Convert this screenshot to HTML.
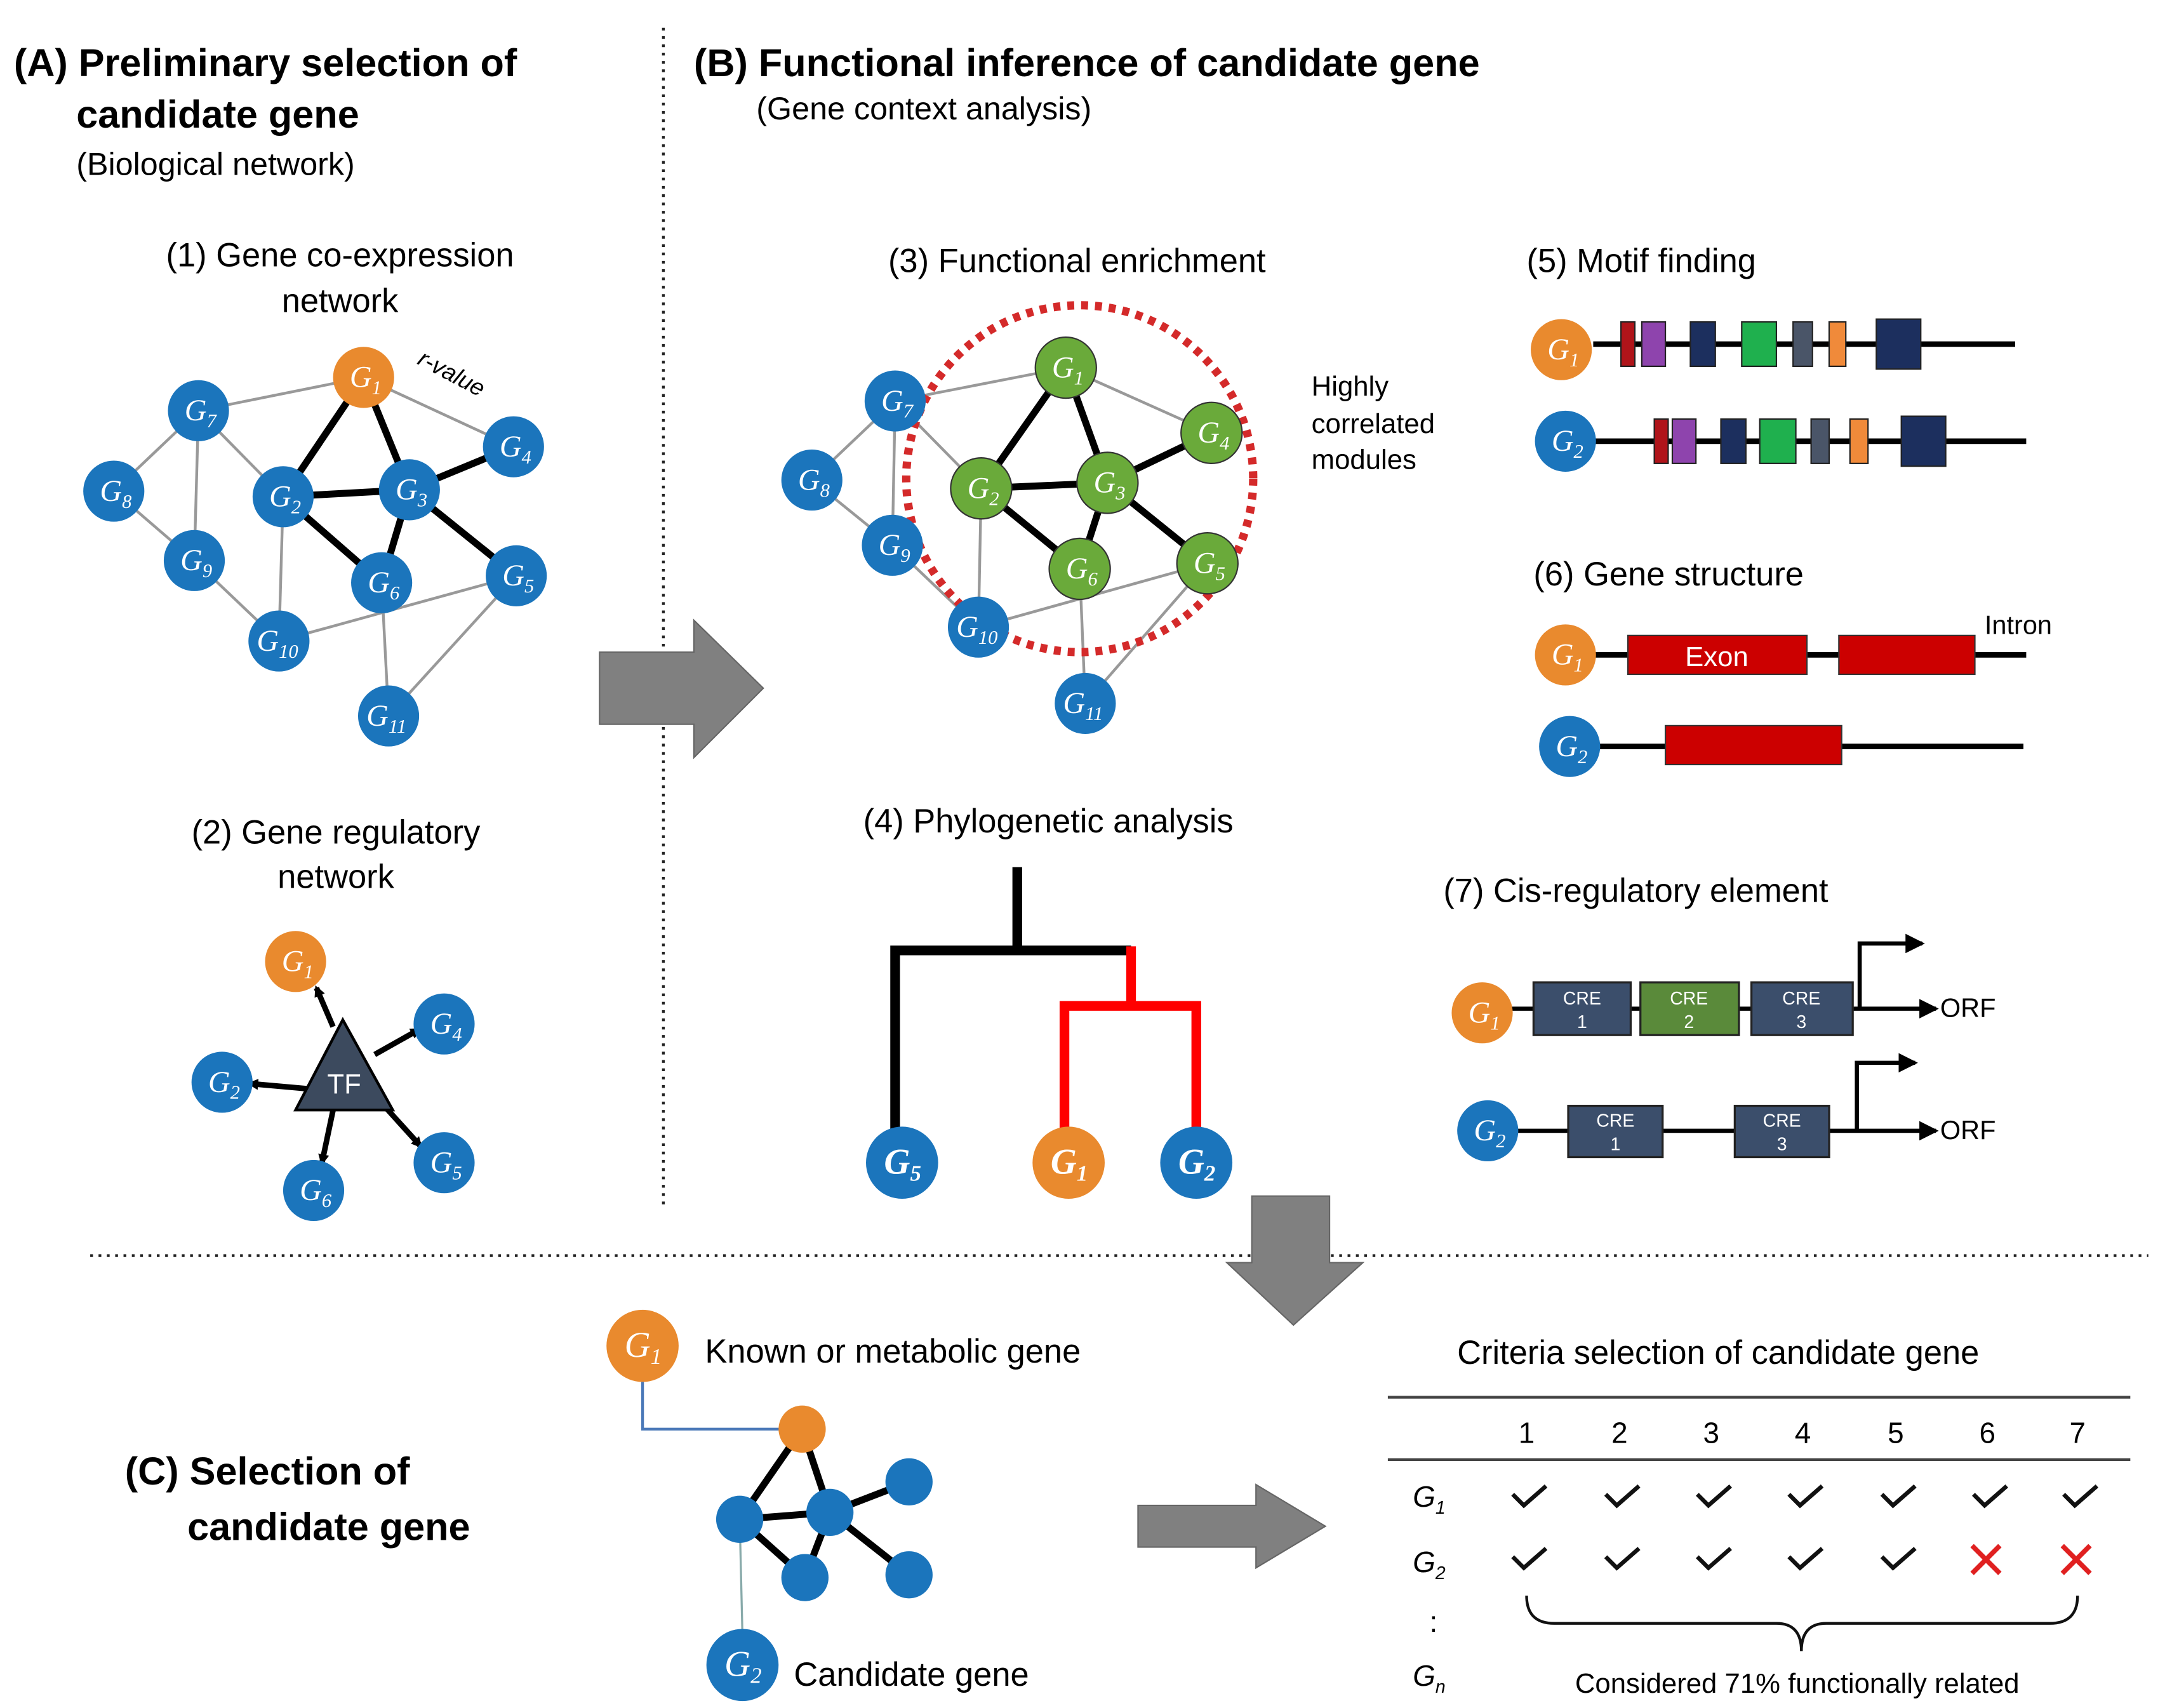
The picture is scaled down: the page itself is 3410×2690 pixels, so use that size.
<!DOCTYPE html>
<html><head><meta charset="utf-8"><style>
html,body{margin:0;padding:0;background:#fff;}
svg{display:block;}
text{font-family:"Liberation Sans",sans-serif;}
.g{font-family:"Liberation Serif",serif;font-style:italic;fill:#fff;}
</style></head><body>
<svg width="3410" height="2690" viewBox="0 0 1560 1231" preserveAspectRatio="none" xmlns="http://www.w3.org/2000/svg">
<defs>
<marker id="ah" markerWidth="8" markerHeight="8" refX="6" refY="4" orient="auto" markerUnits="userSpaceOnUse"><path d="M0,0 L8,4 L0,8 z" fill="#000"/></marker>
<marker id="ah2" markerWidth="14" markerHeight="14" refX="12" refY="7" orient="auto" markerUnits="userSpaceOnUse"><path d="M0,0 L14,7 L0,14 z" fill="#000"/></marker>
</defs>
<rect width="1560" height="1231" fill="#fff"/>
<!-- dividers -->
<line x1="478" y1="20" x2="478" y2="870" stroke="#222" stroke-width="2" stroke-dasharray="2,4"/>
<line x1="65" y1="905" x2="1548" y2="905" stroke="#222" stroke-width="2" stroke-dasharray="2,4"/>

<!-- Section A -->
<text x="10" y="55" font-size="28" font-weight="bold">(A) Preliminary selection of</text>
<text x="55" y="92" font-size="28" font-weight="bold">candidate gene</text>
<text x="55" y="126" font-size="23">(Biological network)</text>
<text x="245" y="192" font-size="24" text-anchor="middle">(1) Gene co-expression</text>
<text x="245" y="225" font-size="24" text-anchor="middle">network</text>
<g stroke="#999" stroke-width="2">
<line x1="262" y1="272" x2="143" y2="296"/><line x1="262" y1="272" x2="370" y2="322"/>
<line x1="143" y1="296" x2="82" y2="354"/><line x1="143" y1="296" x2="140" y2="404"/>
<line x1="143" y1="296" x2="204" y2="358"/><line x1="82" y1="354" x2="140" y2="404"/>
<line x1="140" y1="404" x2="201" y2="462"/><line x1="204" y1="358" x2="201" y2="462"/>
<line x1="201" y1="462" x2="372" y2="415"/><line x1="275" y1="420" x2="280" y2="516"/>
<line x1="372" y1="415" x2="280" y2="516"/>
</g>
<g stroke="#000" stroke-width="5">
<line x1="262" y1="272" x2="204" y2="358"/><line x1="262" y1="272" x2="295" y2="353"/>
<line x1="204" y1="358" x2="295" y2="353"/><line x1="295" y1="353" x2="370" y2="322"/>
<line x1="295" y1="353" x2="275" y2="420"/><line x1="295" y1="353" x2="372" y2="415"/>
<line x1="204" y1="358" x2="275" y2="420"/>
</g>
<text x="300" y="262" font-size="17" font-style="italic" transform="rotate(28 300 262)">r-value</text>
<g id="nodesA">
<circle cx="262" cy="272" r="22" fill="#e98a2e"/><text class="g" x="252" y="279" font-size="22">G<tspan font-size="14" dy="5">1</tspan></text>
<circle cx="143" cy="296" r="22" fill="#1b75bc"/><text class="g" x="133" y="303" font-size="22">G<tspan font-size="14" dy="5">7</tspan></text>
<circle cx="370" cy="322" r="22" fill="#1b75bc"/><text class="g" x="360" y="329" font-size="22">G<tspan font-size="14" dy="5">4</tspan></text>
<circle cx="82" cy="354" r="22" fill="#1b75bc"/><text class="g" x="72" y="361" font-size="22">G<tspan font-size="14" dy="5">8</tspan></text>
<circle cx="204" cy="358" r="22" fill="#1b75bc"/><text class="g" x="194" y="365" font-size="22">G<tspan font-size="14" dy="5">2</tspan></text>
<circle cx="295" cy="353" r="22" fill="#1b75bc"/><text class="g" x="285" y="360" font-size="22">G<tspan font-size="14" dy="5">3</tspan></text>
<circle cx="140" cy="404" r="22" fill="#1b75bc"/><text class="g" x="130" y="411" font-size="22">G<tspan font-size="14" dy="5">9</tspan></text>
<circle cx="275" cy="420" r="22" fill="#1b75bc"/><text class="g" x="265" y="427" font-size="22">G<tspan font-size="14" dy="5">6</tspan></text>
<circle cx="372" cy="415" r="22" fill="#1b75bc"/><text class="g" x="362" y="422" font-size="22">G<tspan font-size="14" dy="5">5</tspan></text>
<circle cx="201" cy="462" r="22" fill="#1b75bc"/><text class="g" x="185" y="469" font-size="22">G<tspan font-size="14" dy="5">10</tspan></text>
<circle cx="280" cy="516" r="22" fill="#1b75bc"/><text class="g" x="264" y="523" font-size="22">G<tspan font-size="14" dy="5">11</tspan></text>
</g>

<text x="242" y="608" font-size="24" text-anchor="middle">(2) Gene regulatory</text>
<text x="242" y="640" font-size="24" text-anchor="middle">network</text>
<g stroke="#000" stroke-width="4">
<line x1="240" y1="740" x2="228" y2="712" marker-end="url(#ah)"/>
<line x1="270" y1="760" x2="302" y2="742" marker-end="url(#ah)"/>
<line x1="225" y1="785" x2="180" y2="781" marker-end="url(#ah)"/>
<line x1="275" y1="795" x2="303" y2="826" marker-end="url(#ah)"/>
<line x1="240" y1="800" x2="232" y2="838" marker-end="url(#ah)"/>
</g>
<polygon points="247,735 213,800 283,800" fill="#3c4a5e" stroke="#000" stroke-width="2"/>
<text x="248" y="788" font-size="20" fill="#fff" text-anchor="middle">TF</text>
<circle cx="213" cy="693" r="22" fill="#e98a2e"/><text class="g" x="203" y="700" font-size="22">G<tspan font-size="14" dy="5">1</tspan></text>
<circle cx="320" cy="738" r="22" fill="#1b75bc"/><text class="g" x="310" y="745" font-size="22">G<tspan font-size="14" dy="5">4</tspan></text>
<circle cx="160" cy="780" r="22" fill="#1b75bc"/><text class="g" x="150" y="787" font-size="22">G<tspan font-size="14" dy="5">2</tspan></text>
<circle cx="320" cy="838" r="22" fill="#1b75bc"/><text class="g" x="310" y="845" font-size="22">G<tspan font-size="14" dy="5">5</tspan></text>
<circle cx="226" cy="858" r="22" fill="#1b75bc"/><text class="g" x="216" y="865" font-size="22">G<tspan font-size="14" dy="5">6</tspan></text>

<!-- big arrow A->B -->
<polygon points="432,470 500,470 500,447 550,496 500,546 500,522 432,522" fill="#808080" stroke="#666" stroke-width="1"/>

<!-- Section B -->
<text x="500" y="55" font-size="28" font-weight="bold">(B) Functional inference of candidate gene</text>
<text x="545" y="86" font-size="23">(Gene context analysis)</text>
<text x="640" y="196" font-size="24">(3) Functional enrichment</text>
<g stroke="#999" stroke-width="2">
<line x1="768" y1="265" x2="645" y2="289"/><line x1="768" y1="265" x2="873" y2="312"/>
<line x1="645" y1="289" x2="585" y2="346"/><line x1="645" y1="289" x2="643" y2="393"/>
<line x1="645" y1="289" x2="707" y2="352"/><line x1="585" y1="346" x2="643" y2="393"/>
<line x1="643" y1="393" x2="705" y2="452"/><line x1="707" y1="352" x2="705" y2="452"/>
<line x1="705" y1="452" x2="870" y2="406"/><line x1="778" y1="410" x2="782" y2="507"/>
<line x1="870" y1="406" x2="782" y2="507"/>
</g>
<g stroke="#000" stroke-width="5">
<line x1="768" y1="265" x2="707" y2="352"/><line x1="768" y1="265" x2="798" y2="348"/>
<line x1="707" y1="352" x2="798" y2="348"/><line x1="798" y1="348" x2="873" y2="312"/>
<line x1="798" y1="348" x2="778" y2="410"/><line x1="798" y1="348" x2="870" y2="406"/>
<line x1="707" y1="352" x2="778" y2="410"/>
</g>
<circle cx="778" cy="345" r="125" fill="none" stroke="#d42a2a" stroke-width="6" stroke-dasharray="5,5"/>
<g>
<circle cx="768" cy="265" r="22" fill="#6aaa3a" stroke="#333"/><text class="g" x="758" y="272" font-size="22">G<tspan font-size="14" dy="5">1</tspan></text>
<circle cx="645" cy="289" r="22" fill="#1b75bc"/><text class="g" x="635" y="296" font-size="22">G<tspan font-size="14" dy="5">7</tspan></text>
<circle cx="873" cy="312" r="22" fill="#6aaa3a" stroke="#333"/><text class="g" x="863" y="319" font-size="22">G<tspan font-size="14" dy="5">4</tspan></text>
<circle cx="585" cy="346" r="22" fill="#1b75bc"/><text class="g" x="575" y="353" font-size="22">G<tspan font-size="14" dy="5">8</tspan></text>
<circle cx="707" cy="352" r="22" fill="#6aaa3a" stroke="#333"/><text class="g" x="697" y="359" font-size="22">G<tspan font-size="14" dy="5">2</tspan></text>
<circle cx="798" cy="348" r="22" fill="#6aaa3a" stroke="#333"/><text class="g" x="788" y="355" font-size="22">G<tspan font-size="14" dy="5">3</tspan></text>
<circle cx="643" cy="393" r="22" fill="#1b75bc"/><text class="g" x="633" y="400" font-size="22">G<tspan font-size="14" dy="5">9</tspan></text>
<circle cx="778" cy="410" r="22" fill="#6aaa3a" stroke="#333"/><text class="g" x="768" y="417" font-size="22">G<tspan font-size="14" dy="5">6</tspan></text>
<circle cx="870" cy="406" r="22" fill="#6aaa3a" stroke="#333"/><text class="g" x="860" y="413" font-size="22">G<tspan font-size="14" dy="5">5</tspan></text>
<circle cx="705" cy="452" r="22" fill="#1b75bc"/><text class="g" x="689" y="459" font-size="22">G<tspan font-size="14" dy="5">10</tspan></text>
<circle cx="782" cy="507" r="22" fill="#1b75bc"/><text class="g" x="766" y="514" font-size="22">G<tspan font-size="14" dy="5">11</tspan></text>
</g>
<text x="945" y="285" font-size="20">Highly</text>
<text x="945" y="312" font-size="20">correlated</text>
<text x="945" y="338" font-size="20">modules</text>

<!-- (4) -->
<text x="622" y="600" font-size="24">(4) Phylogenetic analysis</text>
<g stroke="#000" stroke-width="7" fill="none">
<line x1="733" y1="625" x2="733" y2="685"/>
<polyline points="645,815 645,685 815,685"/>
</g>
<g stroke="#f00" stroke-width="7" fill="none">
<line x1="815" y1="682" x2="815" y2="725"/>
<polyline points="767,815 767,725 862,725 862,815"/>
</g>
<circle cx="650" cy="838" r="26" fill="#1b75bc"/><text class="g" x="637" y="846" font-size="26" font-weight="bold">G<tspan font-size="16" dy="5">5</tspan></text>
<circle cx="770" cy="838" r="26" fill="#e98a2e"/><text class="g" x="757" y="846" font-size="26" font-weight="bold">G<tspan font-size="16" dy="5">1</tspan></text>
<circle cx="862" cy="838" r="26" fill="#1b75bc"/><text class="g" x="849" y="846" font-size="26" font-weight="bold">G<tspan font-size="16" dy="5">2</tspan></text>

<!-- (5) -->
<text x="1100" y="196" font-size="24">(5) Motif finding</text>
<line x1="1148" y1="248" x2="1452" y2="248" stroke="#000" stroke-width="4"/>
<g stroke="#222" stroke-width="1">
<rect x="1168" y="232" width="10" height="32" fill="#b0141a"/>
<rect x="1183" y="232" width="17" height="32" fill="#8e44ad"/>
<rect x="1218" y="232" width="18" height="32" fill="#1c2f5e"/>
<rect x="1255" y="232" width="25" height="32" fill="#1fb04e"/>
<rect x="1292" y="232" width="14" height="32" fill="#4a5568"/>
<rect x="1318" y="232" width="12" height="32" fill="#f08a3a"/>
<rect x="1352" y="230" width="32" height="36" fill="#1c2f5e"/>
</g>
<circle cx="1125" cy="252" r="22" fill="#e98a2e"/><text class="g" x="1115" y="259" font-size="22">G<tspan font-size="14" dy="5">1</tspan></text>
<line x1="1148" y1="318" x2="1460" y2="318" stroke="#000" stroke-width="4"/>
<g stroke="#222" stroke-width="1">
<rect x="1192" y="302" width="10" height="32" fill="#b0141a"/>
<rect x="1205" y="302" width="17" height="32" fill="#8e44ad"/>
<rect x="1240" y="302" width="18" height="32" fill="#1c2f5e"/>
<rect x="1268" y="302" width="26" height="32" fill="#1fb04e"/>
<rect x="1305" y="302" width="13" height="32" fill="#4a5568"/>
<rect x="1333" y="302" width="13" height="32" fill="#f08a3a"/>
<rect x="1370" y="300" width="32" height="36" fill="#1c2f5e"/>
</g>
<circle cx="1128" cy="318" r="22" fill="#1b75bc"/><text class="g" x="1118" y="325" font-size="22">G<tspan font-size="14" dy="5">2</tspan></text>

<!-- (6) -->
<text x="1105" y="422" font-size="24">(6) Gene structure</text>
<line x1="1148" y1="472" x2="1460" y2="472" stroke="#000" stroke-width="4"/>
<rect x="1173" y="458" width="129" height="28" fill="#c00" stroke="#333"/>
<text x="1237" y="480" font-size="20" fill="#fff" text-anchor="middle">Exon</text>
<rect x="1325" y="458" width="98" height="28" fill="#c00" stroke="#333"/>
<text x="1430" y="457" font-size="19">Intron</text>
<circle cx="1128" cy="472" r="22" fill="#e98a2e"/><text class="g" x="1118" y="479" font-size="22">G<tspan font-size="14" dy="5">1</tspan></text>
<line x1="1150" y1="538" x2="1458" y2="538" stroke="#000" stroke-width="4"/>
<rect x="1200" y="523" width="127" height="28" fill="#c00" stroke="#333"/>
<circle cx="1131" cy="538" r="22" fill="#1b75bc"/><text class="g" x="1121" y="545" font-size="22">G<tspan font-size="14" dy="5">2</tspan></text>

<!-- (7) -->
<text x="1040" y="650" font-size="24">(7) Cis-regulatory element</text>
<line x1="1088" y1="727" x2="1395" y2="727" stroke="#000" stroke-width="3" marker-end="url(#ah2)"/>
<polyline points="1340,727 1340,680 1385,680" fill="none" stroke="#000" stroke-width="3" marker-end="url(#ah2)"/>
<g stroke="#222" stroke-width="1.5">
<rect x="1105" y="708" width="70" height="38" fill="#3b4e6b"/>
<rect x="1182" y="708" width="71" height="38" fill="#5a8a3a"/>
<rect x="1262" y="708" width="73" height="38" fill="#3b4e6b"/>
</g>
<g font-size="13" fill="#fff" text-anchor="middle">
<text x="1140" y="724">CRE</text><text x="1140" y="741">1</text>
<text x="1217" y="724">CRE</text><text x="1217" y="741">2</text>
<text x="1298" y="724">CRE</text><text x="1298" y="741">3</text>
</g>
<text x="1398" y="733" font-size="19">ORF</text>
<circle cx="1068" cy="730" r="22" fill="#e98a2e"/><text class="g" x="1058" y="737" font-size="22">G<tspan font-size="14" dy="5">1</tspan></text>
<line x1="1092" y1="815" x2="1395" y2="815" stroke="#000" stroke-width="3" marker-end="url(#ah2)"/>
<polyline points="1338,815 1338,766 1380,766" fill="none" stroke="#000" stroke-width="3" marker-end="url(#ah2)"/>
<g stroke="#222" stroke-width="1.5">
<rect x="1130" y="797" width="68" height="37" fill="#3b4e6b"/>
<rect x="1250" y="797" width="68" height="37" fill="#3b4e6b"/>
</g>
<g font-size="13" fill="#fff" text-anchor="middle">
<text x="1164" y="812">CRE</text><text x="1164" y="829">1</text>
<text x="1284" y="812">CRE</text><text x="1284" y="829">3</text>
</g>
<text x="1398" y="821" font-size="19">ORF</text>
<circle cx="1072" cy="815" r="22" fill="#1b75bc"/><text class="g" x="1062" y="822" font-size="22">G<tspan font-size="14" dy="5">2</tspan></text>

<!-- down arrow -->
<polygon points="902,862 958,862 958,910 982,910 932,955 884,910 902,910" fill="#808080" stroke="#666" stroke-width="1"/>

<!-- Section C -->
<text x="90" y="1070" font-size="28" font-weight="bold">(C) Selection of</text>
<text x="135" y="1110" font-size="28" font-weight="bold">candidate gene</text>
<polyline points="463,996 463,1030 578,1030" fill="none" stroke="#4a78b8" stroke-width="2"/>
<line x1="533" y1="1095" x2="535" y2="1180" stroke="#8aa" stroke-width="1.5"/>
<g stroke="#000" stroke-width="5">
<line x1="578" y1="1030" x2="533" y2="1095"/><line x1="578" y1="1030" x2="598" y2="1090"/>
<line x1="533" y1="1095" x2="598" y2="1090"/><line x1="598" y1="1090" x2="655" y2="1068"/>
<line x1="598" y1="1090" x2="655" y2="1135"/><line x1="598" y1="1090" x2="580" y2="1137"/>
<line x1="533" y1="1095" x2="580" y2="1137"/>
</g>
<circle cx="578" cy="1030" r="17" fill="#e98a2e"/>
<circle cx="533" cy="1095" r="17" fill="#1b75bc"/>
<circle cx="598" cy="1090" r="17" fill="#1b75bc"/>
<circle cx="655" cy="1068" r="17" fill="#1b75bc"/>
<circle cx="580" cy="1137" r="17" fill="#1b75bc"/>
<circle cx="655" cy="1135" r="17" fill="#1b75bc"/>
<circle cx="463" cy="970" r="26" fill="#e98a2e"/><text class="g" x="450" y="978" font-size="26">G<tspan font-size="16" dy="5">1</tspan></text>
<text x="508" y="982" font-size="24">Known or metabolic gene</text>
<circle cx="535" cy="1200" r="26" fill="#1b75bc"/><text class="g" x="522" y="1208" font-size="26">G<tspan font-size="16" dy="5">2</tspan></text>
<text x="572" y="1215" font-size="24">Candidate gene</text>

<polygon points="820,1085 905,1085 905,1070 955,1100 905,1130 905,1115 820,1115" fill="#808080" stroke="#666" stroke-width="1"/>

<!-- table -->
<text x="1050" y="983" font-size="24">Criteria selection of candidate gene</text>
<line x1="1000" y1="1007" x2="1535" y2="1007" stroke="#444" stroke-width="2"/>
<line x1="1000" y1="1052" x2="1535" y2="1052" stroke="#444" stroke-width="2"/>
<line x1="1000" y1="1235" x2="1535" y2="1235" stroke="#444" stroke-width="2"/>
<g font-size="21" text-anchor="middle">
<text x="1100" y="1040">1</text><text x="1167" y="1040">2</text><text x="1233" y="1040">3</text><text x="1299" y="1040">4</text><text x="1366" y="1040">5</text><text x="1432" y="1040">6</text><text x="1497" y="1040">7</text>
</g>
<g font-family="Liberation Serif,serif" font-style="italic" font-size="21">
<text x="1018" y="1086">G<tspan font-size="13" dy="5">1</tspan></text>
<text x="1018" y="1133">G<tspan font-size="13" dy="5">2</tspan></text>
<text x="1030" y="1176" font-style="normal">:</text>
<text x="1018" y="1215">G<tspan font-size="13" dy="5">n</tspan></text>
</g>
<g fill="none" stroke="#111" stroke-width="3">
<path d="M1090,1077 l8,8 l16,-14"/><path d="M1157,1077 l8,8 l16,-14"/><path d="M1223,1077 l8,8 l16,-14"/><path d="M1289,1077 l8,8 l16,-14"/><path d="M1356,1077 l8,8 l16,-14"/><path d="M1422,1077 l8,8 l16,-14"/><path d="M1487,1077 l8,8 l16,-14"/>
<path d="M1090,1122 l8,8 l16,-14"/><path d="M1157,1122 l8,8 l16,-14"/><path d="M1223,1122 l8,8 l16,-14"/><path d="M1289,1122 l8,8 l16,-14"/><path d="M1356,1122 l8,8 l16,-14"/>
</g>
<g stroke="#e02020" stroke-width="3.5">
<line x1="1421" y1="1114" x2="1441" y2="1134"/><line x1="1441" y1="1114" x2="1421" y2="1134"/>
<line x1="1486" y1="1114" x2="1506" y2="1134"/><line x1="1506" y1="1114" x2="1486" y2="1134"/>
</g>
<path d="M1100,1150 Q1100,1170 1120,1170 L1280,1170 Q1298,1170 1298,1190 Q1298,1170 1316,1170 L1477,1170 Q1497,1170 1497,1150" fill="none" stroke="#111" stroke-width="2"/>
<text x="1295" y="1220" font-size="20" text-anchor="middle">Considered 71% functionally related</text>
</svg>
</body></html>
